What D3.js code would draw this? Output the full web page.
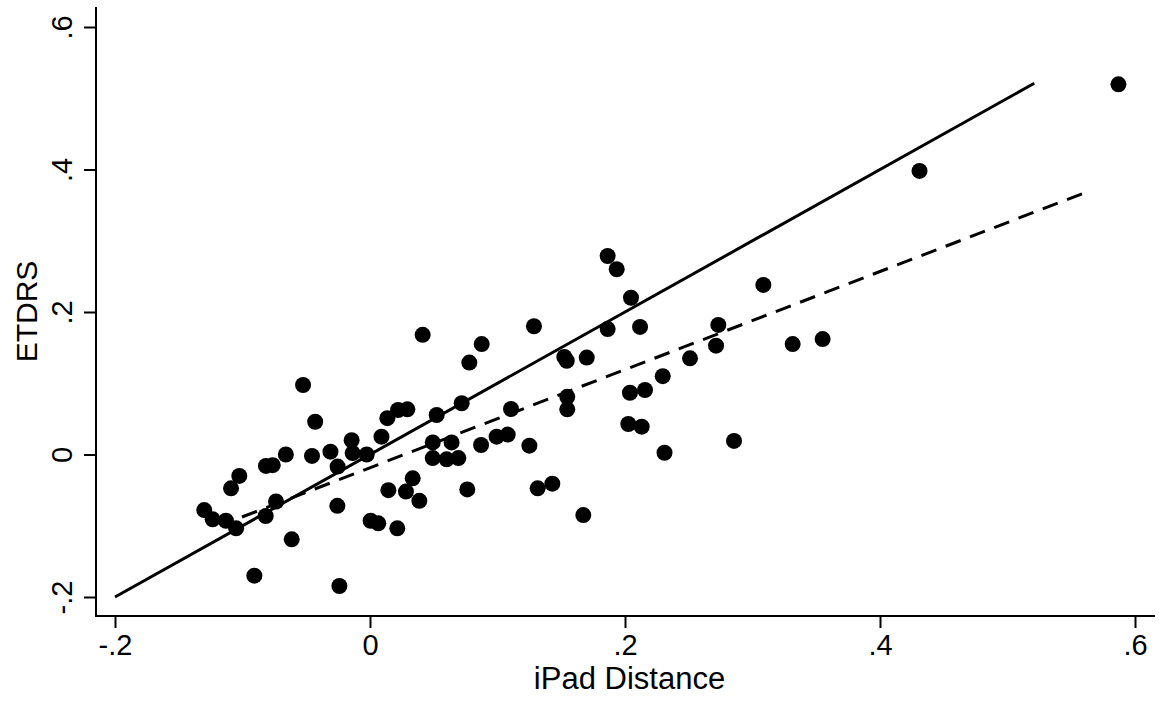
<!DOCTYPE html>
<html>
<head>
<meta charset="utf-8">
<script src="https://cdn.jsdelivr.net/npm/d3@7/dist/d3.min.js"></script>
<style>
  html, body { margin: 0; padding: 0; background: #fff; }
  svg { display: block; }
  text { font-family: "Liberation Sans", Arial, Helvetica, sans-serif; fill: #000; }
</style>
</head>
<body>
<svg id="chart" width="1163" height="703"></svg>
<script>
// ---- data ----
const xTickValues = [-0.2, 0, 0.2, 0.4, 0.6];
const xTickLabels = ["-.2", "0", ".2", ".4", ".6"];
const yTickValues = [-0.2, 0, 0.2, 0.4, 0.6];
const yTickLabels = ["-.2", "0", ".2", ".4", ".6"];
const xTitle = "iPad Distance";
const yTitle = "ETDRS";

// scatter points: iPad distance (x) and ETDRS (y)
const ipad = [
  -0.0525, -0.043, -0.066, -0.0455, -0.031, -0.0144, -0.0136, -0.0026, 0.009, 0.0136,
  0.022, 0.0293, -0.0254, -0.0816, -0.0763, -0.1025, -0.109, -0.130, -0.1234, -0.113,
  -0.105, -0.0737, -0.0818, -0.0256, -0.0614, -0.0907, -0.024, 0.0005, 0.0065, 0.0144,
  0.0214, 0.0282, 0.1864, 0.1935, 0.2047, 0.1864, 0.2118, 0.1286, 0.0413, 0.0876,
  0.0779, 0.1524, 0.1543, 0.170, 0.2296, 0.2039, 0.2157, 0.1547, 0.1547, 0.1106,
  0.0719, 0.0523, 0.0492, 0.064, 0.0492, 0.0601, 0.0693, 0.0871, 0.0993, 0.108,
  0.125, 0.231, 0.0335, 0.0387, 0.0763, 0.1315, 0.143, 0.1673, 0.3085, 0.2732,
  0.2714, 0.3315, 0.355, 0.251, 0.2026, 0.2131, 0.2855, 0.431, 0.587
];
const etdrs = [
  0.0975, 0.046, 0.000, -0.002, 0.004, 0.020, 0.002, 0.000, 0.025, 0.051,
  0.0625, 0.0634, -0.017, -0.016, -0.015, -0.030, -0.0475, -0.078, -0.091, -0.093,
  -0.1036, -0.066, -0.0863, -0.072, -0.119, -0.170, -0.1846, -0.093, -0.0966, -0.050,
  -0.1036, -0.052, 0.2786, 0.260, 0.220, 0.176, 0.179, 0.180, 0.168, 0.155,
  0.129, 0.137, 0.1316, 0.136, 0.110, 0.0867, 0.0905, 0.081, 0.0634, 0.0639,
  0.0719, 0.0554, 0.017, 0.017, -0.005, -0.0068, -0.005, 0.0133, 0.025, 0.028,
  0.0124, 0.0025, -0.0334, -0.065, -0.049, -0.0475, -0.041, -0.085, 0.238, 0.1818,
  0.1527, 0.155, 0.162, 0.135, 0.0428, 0.039, 0.019, 0.398, 0.5196
];

// reference lines (endpoints in data units)
const identityLineX = [-0.2, 0.521];
const identityLineY = [-0.2, 0.521];
const fitLineX = [-0.1004, 0.560];
const fitLineY = [-0.0877, 0.367];

// ---- drawing ----
const svg = d3.select("#chart");
const x = d3.scaleLinear().domain([-0.2, 0.6]).range([115, 1135]);
const y = d3.scaleLinear().domain([-0.2, 0.6]).range([597, 27]);

const axisLeftX = 96, axisBottomY = 616, axisTopY = 7, axisRightX = 1155;

// axis frame lines
svg.append("line")
  .attr("x1", axisLeftX).attr("x2", axisLeftX)
  .attr("y1", axisTopY).attr("y2", axisBottomY + 1)
  .attr("stroke", "#000").attr("stroke-width", 2);
svg.append("line")
  .attr("x1", axisLeftX - 1).attr("x2", axisRightX)
  .attr("y1", axisBottomY).attr("y2", axisBottomY)
  .attr("stroke", "#000").attr("stroke-width", 2);

// x axis
const xAxis = d3.axisBottom(x)
  .tickValues(xTickValues)
  .tickFormat((d, i) => xTickLabels[i])
  .tickSize(12).tickPadding(6);
const gx = svg.append("g").attr("transform", `translate(0,${axisBottomY})`).call(xAxis);
gx.select(".domain").remove();
gx.selectAll(".tick line").attr("stroke", "#000").attr("stroke-width", 2);
gx.selectAll(".tick text").attr("font-size", 29).attr("font-family", "Liberation Sans, Arial, sans-serif").attr("fill", "#000");

// y axis
const yAxis = d3.axisLeft(y)
  .tickValues(yTickValues)
  .tickFormat((d, i) => yTickLabels[i])
  .tickSize(12).tickPadding(0);
const gy = svg.append("g").attr("transform", `translate(${axisLeftX},0)`).call(yAxis);
gy.select(".domain").remove();
gy.selectAll(".tick line").attr("stroke", "#000").attr("stroke-width", 2);
gy.selectAll(".tick text")
  .attr("font-size", 29).attr("font-family", "Liberation Sans, Arial, sans-serif").attr("fill", "#000")
  .attr("x", null).attr("dy", null)
  .attr("text-anchor", "middle")
  .attr("transform", "translate(-24,0) rotate(-90)");

// axis titles
svg.append("text")
  .attr("x", (axisLeftX + axisRightX) / 2 + 4)
  .attr("y", 689)
  .attr("text-anchor", "middle")
  .attr("font-size", 31)
  .text(xTitle);
svg.append("text")
  .attr("transform", `translate(37,${(axisTopY + axisBottomY) / 2}) rotate(-90)`)
  .attr("text-anchor", "middle")
  .attr("font-size", 30)
  .text(yTitle);

// lines
const lineGen = d3.line().x(d => x(d[0])).y(d => y(d[1]));
svg.append("path")
  .datum(identityLineX.map((v, i) => [v, identityLineY[i]]))
  .attr("d", lineGen)
  .attr("fill", "none").attr("stroke", "#000").attr("stroke-width", 3);
svg.append("path")
  .datum(fitLineX.map((v, i) => [v, fitLineY[i]]))
  .attr("d", lineGen)
  .attr("fill", "none").attr("stroke", "#000").attr("stroke-width", 3)
  .attr("stroke-dasharray", "16,10");

// points
const pts = ipad.map((v, i) => ({ x: v, y: etdrs[i] }));
svg.append("g").selectAll("circle")
  .data(pts)
  .join("circle")
  .attr("cx", d => x(d.x))
  .attr("cy", d => y(d.y))
  .attr("r", 8)
  .attr("fill", "#000");
</script>
</body>
</html>
